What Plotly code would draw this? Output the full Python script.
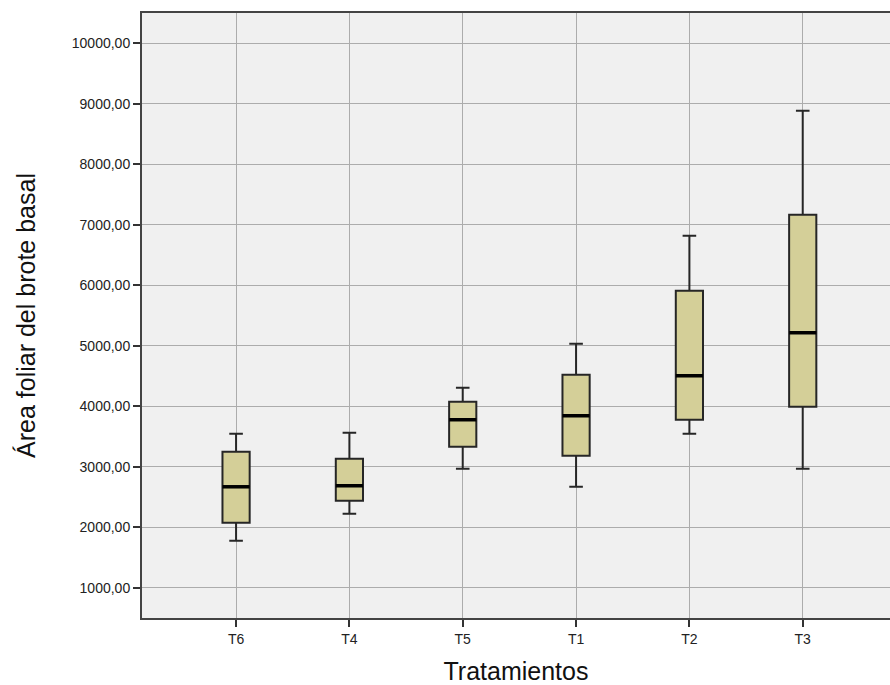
import plotly.graph_objects as go

# Leaf area of the basal shoot per treatment (box statistics)
tratamientos = ["T6", "T4", "T5", "T1", "T2", "T3"]
minimo = [1777, 2223, 2967, 2669, 3545, 2967]
q1 = [2074, 2438, 3331, 3182, 3777, 3992]
mediana = [2669, 2686, 3777, 3843, 4504, 5215]
q3 = [3248, 3132, 4074, 4521, 5909, 7165]
maximo = [3545, 3562, 4306, 5033, 6818, 8884]

posiciones = list(range(len(tratamientos)))
ancho_caja = 0.24

fig = go.Figure()

fig.add_trace(go.Box(
    x=posiciones,
    q1=q1, median=mediana, q3=q3,
    lowerfence=minimo, upperfence=maximo,
    width=ancho_caja,
    whiskerwidth=0.5,
    fillcolor="#d4cf98",
    line=dict(color="#262626", width=2),
    boxpoints=False,
    showlegend=False,
    hoverinfo="skip",
))

# Thicker median bars drawn over each box
mx, my = [], []
for p, m in zip(posiciones, mediana):
    mx += [p - ancho_caja / 2, p + ancho_caja / 2, None]
    my += [m, m, None]
fig.add_trace(go.Scatter(
    x=mx, y=my, mode="lines",
    line=dict(color="#000000", width=3.5),
    showlegend=False, hoverinfo="skip",
))

fuente = "Liberation Sans, Arial, sans-serif"

fig.update_layout(
    width=890, height=685,
    margin=dict(l=142, r=0, t=13, b=67),
    paper_bgcolor="white",
    plot_bgcolor="#f0f0f0",
    separators=",.",
    font=dict(family=fuente, color="#222222"),
    xaxis=dict(
        range=[-0.83, 5.77],
        tickmode="array", tickvals=posiciones, ticktext=tratamientos,
        showgrid=True, gridcolor="#acacac", gridwidth=1,
        showline=True, linecolor="#444444", linewidth=2, mirror=True,
        ticks="outside", ticklen=7, tickwidth=2, tickcolor="#333333",
        tickfont=dict(size=14, family=fuente, color="#222222"),
        title=dict(text="Tratamientos", font=dict(size=25, family=fuente, color="#111111"),
                   standoff=19),
        zeroline=False,
    ),
    yaxis=dict(
        range=[500, 10500],
        tick0=1000, dtick=1000, tickformat=".2f",
        showgrid=True, gridcolor="#acacac", gridwidth=1,
        showline=True, linecolor="#444444", linewidth=2,
        ticks="outside", ticklen=7, tickwidth=2, tickcolor="#333333",
        tickfont=dict(size=14, family=fuente, color="#222222"),
        title=dict(text="Área foliar del brote basal", font=dict(size=25, family=fuente, color="#111111"),
                   standoff=29),
        zeroline=False,
    ),
)

fig.write_html("out.html")
